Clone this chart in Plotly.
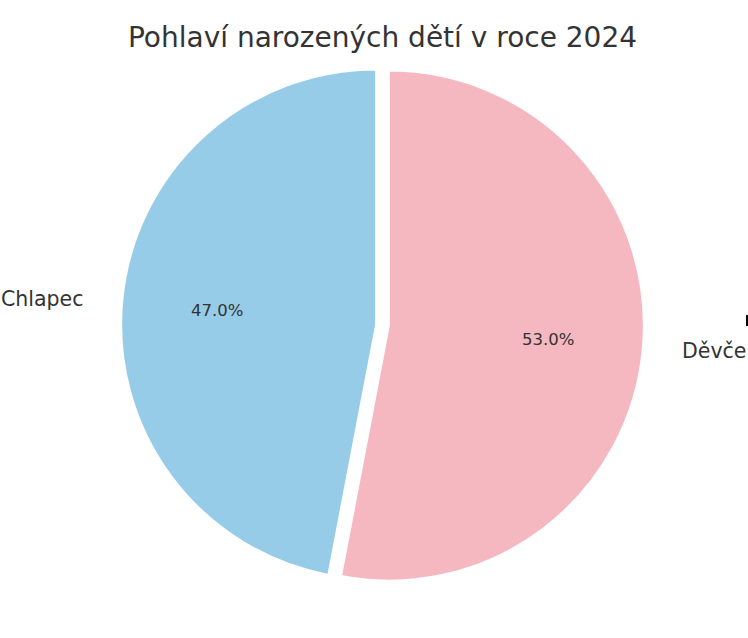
import math
import plotly.graph_objects as go

# ---- data ----
categories = ["Chlapec", "Děvče"]
values = [47.0, 53.0]
colors = ["#97CCE8", "#F5B8C1"]
title_text = "Pohlaví narozených dětí v roce 2024"

W, H = 748, 638
CX, CY = 382.5, 325.0      # pie centre (px)
R = 255.0                  # pie radius (px)
RX, RY = 266.0, 245.0      # text placement radii (px)
PULL = 0.025
FONT = "DejaVu Sans"
TXT = "#333333"

total = sum(values)
first_span = 360.0 * values[0] / total   # first slice drawn counter-clockwise from 12 o'clock

half = R * (1 + PULL)
fig = go.Figure(go.Pie(
    labels=categories,
    values=values,
    sort=False,
    direction="clockwise",
    rotation=-first_span,
    pull=[PULL] * len(values),
    marker=dict(colors=colors, line=dict(color="white", width=2)),
    textinfo="none",
    hoverinfo="label+percent",
    showlegend=False,
    domain=dict(x=[(CX - half) / W, (CX + half) / W],
                y=[(H - CY - half) / H, (H - CY + half) / H]),
))

# text placement derived from the values (matplotlib-like: pct at 0.6, label at 1.1)
start = 90.0
annotations = []
for lab, v in zip(categories, values):
    span = 360.0 * v / total
    mid = math.radians(start + span / 2)
    start += span
    c, s = math.cos(mid), math.sin(mid)
    ox = CX + PULL * RX * c
    oy = CY - PULL * RY * s
    px, py = ox + 0.6 * RX * c, oy - 0.6 * RY * s
    annotations.append(dict(x=px / W, y=1 - py / H, xref="paper", yref="paper",
                            text=f"{100 * v / total:.1f}%", showarrow=False,
                            xanchor="center", yanchor="middle",
                            font=dict(family=FONT, size=16.5, color=TXT)))
    lx, ly = ox + 1.1 * RX * c, oy - 1.1 * RY * s
    annotations.append(dict(x=lx / W, y=1 - ly / H, xref="paper", yref="paper",
                            text=lab, showarrow=False,
                            xanchor="right" if c < 0 else "left", yanchor="middle",
                            font=dict(family=FONT, size=20.5, color=TXT)))

fig.update_layout(
    width=W, height=H,
    margin=dict(l=0, r=0, t=0, b=0),
    paper_bgcolor="white", plot_bgcolor="white",
    title=dict(text=title_text, x=CX / W, xanchor="center",
               y=1 - 37 / H, yanchor="middle",
               font=dict(family=FONT, size=28, color=TXT)),
    annotations=annotations,
    shapes=[dict(type="rect", xref="paper", yref="paper",
                 x0=746 / W, x1=748 / W,
                 y0=1 - 326 / H, y1=1 - 315 / H,
                 fillcolor="black", line=dict(width=0))],
)
fig.write_html("out.html",
               config={"displayModeBar": False},
               post_script="document.body.style.margin='0';document.body.style.overflow='hidden';")
